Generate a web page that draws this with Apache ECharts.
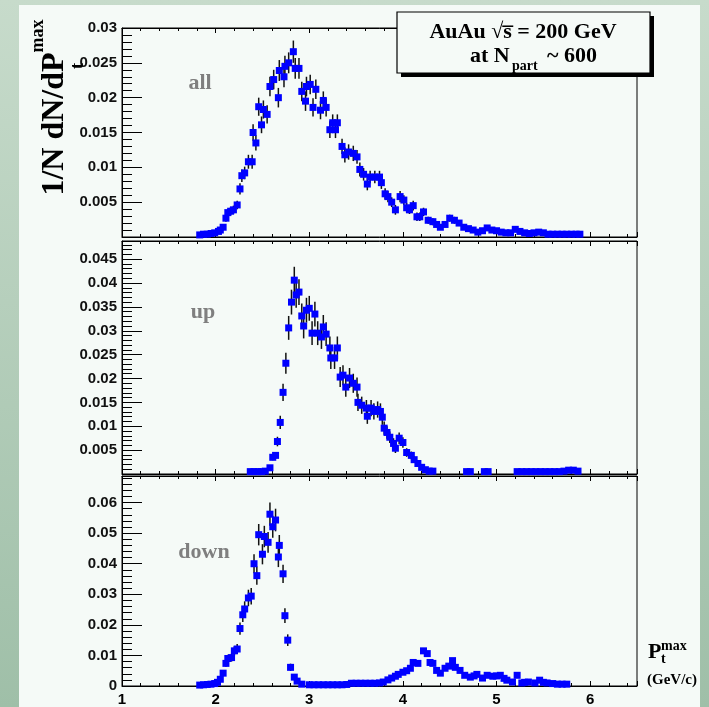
<!DOCTYPE html>
<html><head><meta charset="utf-8">
<script src="https://cdn.jsdelivr.net/npm/echarts@6/dist/echarts.min.js"></script>
<style>html,body{margin:0;padding:0;background:#a9c6b0;} #c{width:709px;height:707px;}</style>
</head><body><div id="c"></div><script>
// ---- data: [pt (GeV/c), 1/N dN/dPt, error]
const allPts = [
[1.83,0.0003,0.0002],[1.87,0.0004,0.0002],[1.91,0.0004,0.0002],[1.95,0.0005,0.0002],[1.99,0.0006,0.0003],[2.03,0.0008,0.0003],
[2.05,0.0010,0.0003],[2.08,0.0014,0.0004],[2.11,0.0027,0.0005],[2.13,0.0035,0.0005],[2.16,0.0037,0.0006],[2.19,0.0039,0.0006],
[2.23,0.0046,0.0006],[2.26,0.0069,0.0008],[2.28,0.0088,0.0009],[2.31,0.0092,0.0009],[2.35,0.0108,0.0010],[2.39,0.0108,0.0010],
[2.40,0.0150,0.0012],[2.43,0.0135,0.0011],[2.46,0.0187,0.0013],[2.49,0.0161,0.0012],[2.51,0.0183,0.0013],[2.55,0.0176,0.0013],
[2.58,0.0216,0.0014],[2.62,0.0226,0.0014],[2.67,0.0200,0.0014],[2.68,0.0239,0.0015],[2.73,0.0230,0.0015],[2.74,0.0245,0.0015],
[2.78,0.0250,0.0015],[2.83,0.0266,0.0016],[2.85,0.0242,0.0015],[2.89,0.0242,0.0015],[2.92,0.0209,0.0014],[2.96,0.0195,0.0014],
[2.97,0.0216,0.0014],[3.01,0.0219,0.0014],[3.04,0.0186,0.0013],[3.07,0.0212,0.0014],[3.12,0.0182,0.0013],[3.15,0.0196,0.0013],
[3.18,0.0186,0.0013],[3.22,0.0154,0.0012],[3.25,0.0164,0.0012],[3.28,0.0154,0.0012],[3.30,0.0164,0.0012],[3.35,0.0130,0.0011],
[3.38,0.0118,0.0011],[3.42,0.0122,0.0011],[3.47,0.0120,0.0011],[3.51,0.0115,0.0010],[3.54,0.0097,0.0010],[3.58,0.0090,0.0009],
[3.62,0.0076,0.0009],[3.65,0.0086,0.0009],[3.70,0.0086,0.0009],[3.75,0.0086,0.0009],[3.77,0.0078,0.0009],[3.81,0.0062,0.0008],
[3.84,0.0058,0.0008],[3.88,0.0050,0.0007],[3.92,0.0039,0.0007],[3.97,0.0058,0.0008],[4.01,0.0053,0.0007],[4.04,0.0042,0.0007],
[4.07,0.0039,0.0006],[4.11,0.0045,0.0007],[4.15,0.0029,0.0006],[4.18,0.0029,0.0006],[4.22,0.0036,0.0006],[4.27,0.0024,0.0005],
[4.32,0.0022,0.0005],[4.36,0.0018,0.0004],[4.40,0.0014,0.0004],[4.45,0.0018,0.0004],[4.50,0.0027,0.0005],[4.55,0.0024,0.0005],
[4.60,0.0020,0.0004],[4.65,0.0014,0.0004],[4.70,0.0012,0.0003],[4.75,0.0010,0.0003],[4.80,0.0007,0.0003],[4.85,0.0009,0.0003],
[4.90,0.0013,0.0004],[4.95,0.0010,0.0003],[5.00,0.0009,0.0003],[5.05,0.0007,0.0003],[5.10,0.0006,0.0002],[5.15,0.0006,0.0002],
[5.20,0.0011,0.0003],[5.25,0.0008,0.0002],[5.30,0.0006,0.0002],[5.35,0.0005,0.0002],[5.40,0.0006,0.0002],[5.45,0.0007,0.0002],
[5.50,0.0006,0.0002],[5.55,0.0004,0.0002],[5.60,0.0004,0.0002],[5.65,0.0004,0.0002],[5.70,0.0004,0.0002],[5.75,0.0004,0.0002],
[5.80,0.0004,0.0002],[5.85,0.0004,0.0002],[5.89,0.0004,0.0002]
];
const upPts = [
[2.37,0.0005,0.0002],[2.41,0.0005,0.0002],[2.45,0.0005,0.0002],[2.49,0.0005,0.0002],[2.53,0.0006,0.0002],[2.58,0.0013,0.0004],
[2.61,0.0035,0.0006],[2.64,0.0039,0.0007],[2.66,0.0068,0.0010],[2.69,0.0108,0.0014],[2.72,0.0171,0.0018],[2.75,0.0232,0.0022],
[2.78,0.0306,0.0025],[2.81,0.0360,0.0026],[2.84,0.0406,0.0028],[2.86,0.0375,0.0027],[2.89,0.0381,0.0027],[2.92,0.0331,0.0026],
[2.94,0.0310,0.0026],[2.97,0.0343,0.0026],[3.00,0.0347,0.0026],[3.03,0.0295,0.0025],[3.06,0.0335,0.0026],[3.09,0.0295,0.0025],
[3.13,0.0287,0.0025],[3.15,0.0308,0.0025],[3.18,0.0293,0.0025],[3.22,0.0264,0.0024],[3.23,0.0243,0.0023],[3.27,0.0243,0.0023],
[3.30,0.0264,0.0024],[3.33,0.0203,0.0021],[3.36,0.0207,0.0021],[3.39,0.0182,0.0020],[3.43,0.0201,0.0021],[3.47,0.0190,0.0020],
[3.51,0.0182,0.0020],[3.52,0.0150,0.0018],[3.56,0.0144,0.0018],[3.61,0.0138,0.0017],[3.62,0.0121,0.0016],[3.66,0.0138,0.0017],
[3.69,0.0131,0.0017],[3.73,0.0135,0.0017],[3.76,0.0131,0.0017],[3.78,0.0119,0.0016],[3.80,0.0096,0.0014],[3.83,0.0087,0.0013],
[3.86,0.0077,0.0012],[3.90,0.0064,0.0011],[3.92,0.0054,0.0010],[3.96,0.0075,0.0012],[4.00,0.0066,0.0011],[4.04,0.0045,0.0009],
[4.09,0.0039,0.0008],[4.12,0.0030,0.0007],[4.16,0.0022,0.0006],[4.20,0.0014,0.0005],[4.24,0.0009,0.0004],[4.28,0.0006,0.0003],
[4.32,0.0006,0.0003],[4.68,0.0005,0.0002],[4.72,0.0005,0.0002],[4.87,0.0005,0.0002],[4.91,0.0005,0.0002],
[5.22,0.0005,0.0002],[5.27,0.0005,0.0002],[5.32,0.0005,0.0002],[5.37,0.0005,0.0002],[5.42,0.0005,0.0002],[5.47,0.0005,0.0002],
[5.52,0.0005,0.0002],[5.57,0.0005,0.0002],[5.62,0.0005,0.0002],[5.67,0.0005,0.0002],[5.72,0.0006,0.0002],[5.77,0.0008,0.0002],
[5.82,0.0008,0.0002],[5.87,0.0006,0.0002]
];
const downPts = [
[1.83,0.0003,0.0002],[1.87,0.0004,0.0002],[1.91,0.0005,0.0002],[1.95,0.0006,0.0003],[1.99,0.0008,0.0003],[2.02,0.0012,0.0004],
[2.05,0.0022,0.0005],[2.08,0.0042,0.0007],[2.11,0.0074,0.0011],[2.13,0.0090,0.0012],[2.17,0.0093,0.0013],[2.20,0.0115,0.0015],
[2.23,0.0121,0.0016],[2.26,0.0188,0.0020],[2.29,0.0233,0.0024],[2.31,0.0252,0.0025],[2.35,0.0288,0.0027],[2.38,0.0294,0.0027],
[2.41,0.0400,0.0031],[2.44,0.0361,0.0030],[2.46,0.0495,0.0035],[2.50,0.0431,0.0033],[2.52,0.0489,0.0035],[2.56,0.0470,0.0034],
[2.58,0.0562,0.0038],[2.61,0.0521,0.0036],[2.64,0.0543,0.0037],[2.67,0.0422,0.0033],[2.68,0.0460,0.0034],[2.72,0.0367,0.0030],
[2.74,0.0230,0.0024],[2.77,0.0150,0.0019],[2.80,0.0061,0.0012],[2.84,0.0029,0.0008],[2.87,0.0016,0.0006],[2.92,0.0006,0.0004],
[3.00,0.0004,0.0002],[3.05,0.0004,0.0002],[3.10,0.0004,0.0002],[3.15,0.0004,0.0002],[3.20,0.0004,0.0002],[3.25,0.0004,0.0002],
[3.30,0.0004,0.0002],[3.35,0.0004,0.0002],[3.40,0.0005,0.0002],[3.45,0.0009,0.0003],[3.50,0.0009,0.0003],[3.55,0.0009,0.0003],
[3.60,0.0009,0.0003],[3.65,0.0009,0.0003],[3.70,0.0009,0.0003],[3.75,0.0010,0.0003],[3.79,0.0013,0.0003],[3.84,0.0020,0.0004],
[3.88,0.0026,0.0004],[3.92,0.0032,0.0005],[3.95,0.0038,0.0005],[4.00,0.0045,0.0005],[4.04,0.0050,0.0006],[4.08,0.0058,0.0006],
[4.11,0.0077,0.0007],[4.16,0.0074,0.0007],[4.22,0.0115,0.0008],[4.26,0.0106,0.0008],[4.29,0.0077,0.0007],[4.32,0.0074,0.0007],
[4.36,0.0051,0.0006],[4.40,0.0042,0.0005],[4.45,0.0058,0.0006],[4.49,0.0065,0.0006],[4.53,0.0083,0.0007],[4.56,0.0061,0.0006],
[4.61,0.0051,0.0006],[4.66,0.0035,0.0005],[4.72,0.0029,0.0004],[4.76,0.0033,0.0005],[4.79,0.0038,0.0005],[4.85,0.0026,0.0004],
[4.90,0.0035,0.0005],[4.96,0.0032,0.0005],[5.00,0.0033,0.0005],[5.04,0.0035,0.0005],[5.08,0.0025,0.0004],[5.11,0.0019,0.0004],
[5.17,0.0013,0.0003],[5.22,0.0035,0.0005],[5.27,0.0010,0.0003],[5.30,0.0012,0.0003],[5.34,0.0013,0.0003],[5.41,0.0010,0.0003],
[5.46,0.0019,0.0004],[5.50,0.0012,0.0003],[5.54,0.0010,0.0003],[5.60,0.0008,0.0003],[5.65,0.0006,0.0002],[5.70,0.0006,0.0002],
[5.75,0.0006,0.0002]
];
const panelNames = ['all','up','down'];
const yMax = [0.03, 0.0488, 0.0687];
const yStep = [0.005, 0.005, 0.01];
const xTickLabels = ['1','2','3','4','5','6'];

// ---- layout
const grids = [
  {left:122, right:72, top:28, height:209},
  {left:122, right:72, top:241, height:233},
  {left:122, right:72, top:476, height:215}
];
const panelData = [allPts, upPts, downPts];

const chart = echarts.init(document.getElementById('c'), null, {renderer:'canvas'});
const xAxes = [], yAxes = [], series = [];
grids.forEach((g, i) => {
  const xBase = {
    type:'value', gridIndex:i, min:1, max:6.5, interval:1,
    axisLine:{show:true, lineStyle:{color:'#000', width:1}},
    axisTick:{show:true, inside:true, length:5, lineStyle:{color:'#000', width:1}},
    minorTick:{show:true, splitNumber:5, length:3, lineStyle:{color:'#000', width:1}},
    splitLine:{show:false}, minorSplitLine:{show:false}
  };
  xAxes.push(Object.assign({}, xBase, {
    position:'bottom',
    axisLabel:{show: i===2, margin:6, color:'#000', fontFamily:'"Liberation Sans", Arial, sans-serif', fontWeight:'bold', fontSize:15,
      formatter: v => { const k = Math.round(v) ; return Math.abs(v-k)<1e-6 ? xTickLabels[k-1] : ''; } }
  }));
  xAxes.push(Object.assign({}, xBase, {position:'top', axisLabel:{show:false}}));
  yAxes.push({
    type:'value', gridIndex:i, min:0, max:yMax[i], interval:yStep[i],
    axisLine:{show:true, lineStyle:{color:'#000', width:1}},
    axisTick:{show:true, inside:true, length:20, lineStyle:{color:'#000', width:1}},
    minorTick:{show:true, splitNumber:5, length:10, lineStyle:{color:'#000', width:1}},
    splitLine:{show:false},
    axisLabel:{margin:5, color:'#111', fontFamily:'"Liberation Sans", Arial, sans-serif', fontWeight:'bold', fontSize:15,
      formatter: v => {
        const r = v / yStep[i];
        if (Math.abs(r - Math.round(r)) > 1e-6) return '';
        if (Math.abs(v) < 1e-12) return i===2 ? '0' : '';
        return String(+v.toFixed(4));
      }}
  });
  series.push({
    type:'custom', xAxisIndex:2*i, yAxisIndex:i, data: panelData[i], encode:{x:0,y:1},
    renderItem:(params, api) => {
      const x = api.value(0), y = api.value(1), e = api.value(2);
      const p1 = api.coord([x, y+e]), p2 = api.coord([x, Math.max(0, y-e)]);
      return {type:'line', shape:{x1:p1[0], y1:p1[1], x2:p2[0], y2:p2[1]}, style:{stroke:'#111', lineWidth:1.5}};
    }, z:2
  });
  series.push({
    type:'scatter', xAxisIndex:2*i, yAxisIndex:i, data: panelData[i].map(d => [d[0], d[1]]),
    symbol:'rect', symbolSize:7, itemStyle:{color:'#0000ff', opacity:1}, z:3, silent:true
  });
});

const serif = '"Liberation Serif", "Times New Roman", serif';
const graphic = [
  {type:'rect', z:-10, shape:{x:19, y:5, width:681, height:702}, style:{fill:'#f5faf7'}},
  // legend box with shadow
  {type:'rect', z:10, shape:{x:401, y:16, width:253, height:61}, style:{fill:'#000'}},
  {type:'rect', z:11, shape:{x:397, y:12, width:253, height:61}, style:{fill:'#f5faf7', stroke:'#000', lineWidth:1.2}},
  {type:'text', z:12, x:523, y:32, style:{text:'AuAu \u221As\u0305 = 200 GeV', font:'bold 22px '+serif, fill:'#000', align:'center', verticalAlign:'middle'}},
  {type:'text', z:12, x:470, y:56, style:{text:'at N', font:'bold 22px '+serif, fill:'#000', align:'left', verticalAlign:'middle'}},
  {type:'text', z:12, x:512, y:66, style:{text:'part', font:'bold 14px '+serif, fill:'#000', align:'left', verticalAlign:'middle'}},
  {type:'text', z:12, x:547, y:56, style:{text:'~ 600', font:'bold 22px '+serif, fill:'#000', align:'left', verticalAlign:'middle'}},
  // y axis title
  {type:'text', z:12, x:55, y:124, rotation:Math.PI/2, style:{text:'1/N dN/dP', font:'bold 32px '+serif, fill:'#000', align:'center', verticalAlign:'middle'}},
  {type:'text', z:12, x:38, y:36, rotation:Math.PI/2, style:{text:'max', font:'bold 18px '+serif, fill:'#000', align:'center', verticalAlign:'middle'}},
  {type:'text', z:12, x:78, y:66, rotation:Math.PI/2, style:{text:'t', font:'bold 18px '+serif, fill:'#000', align:'center', verticalAlign:'middle'}},
  // panel labels
  {type:'text', z:12, x:200, y:83, style:{text:panelNames[0], font:'bold 22px '+serif, fill:'#7f7f7f', align:'center', verticalAlign:'middle'}},
  {type:'text', z:12, x:203, y:312, style:{text:panelNames[1], font:'bold 22px '+serif, fill:'#7f7f7f', align:'center', verticalAlign:'middle'}},
  {type:'text', z:12, x:204, y:552, style:{text:panelNames[2], font:'bold 22px '+serif, fill:'#7f7f7f', align:'center', verticalAlign:'middle'}},
  // x axis title
  {type:'text', z:12, x:648, y:652, style:{text:'P', font:'bold 22px '+serif, fill:'#000', align:'left', verticalAlign:'middle'}},
  {type:'text', z:12, x:661, y:646, style:{text:'max', font:'bold 14px '+serif, fill:'#000', align:'left', verticalAlign:'middle'}},
  {type:'text', z:12, x:661, y:659, style:{text:'t', font:'bold 14px '+serif, fill:'#000', align:'left', verticalAlign:'middle'}},
  {type:'text', z:12, x:672, y:680, style:{text:'(GeV/c)', font:'bold 15px '+serif, fill:'#000', align:'center', verticalAlign:'middle'}}
];

chart.setOption({
  backgroundColor: {type:'linear', x:0, y:0, x2:0, y2:1, colorStops:[{offset:0, color:'#c7dbcb'},{offset:1, color:'#9fbfa8'}]},
  animation:false,
  grid: grids.map(g => Object.assign({show:true, borderColor:'#000', borderWidth:1, backgroundColor:'transparent'}, g)),
  xAxis: xAxes, yAxis: yAxes, series: series, graphic: graphic
});
</script></body></html>
